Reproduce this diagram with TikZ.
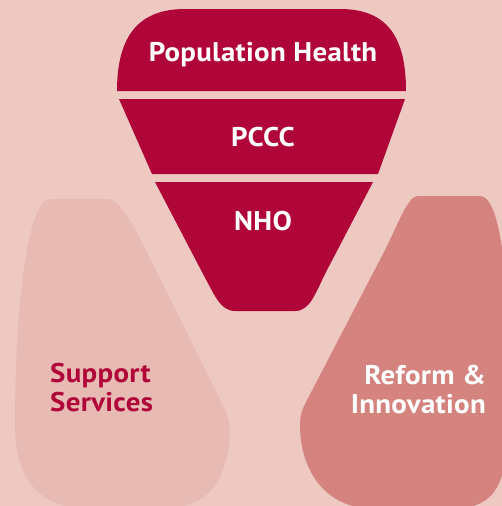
\documentclass[tikz,border=0pt]{standalone}
\usepackage{fontspec}
\setmainfont{PT Sans}
\newfontfamily\labelfont{PT Sans}[FakeStretch=1.07, LetterSpace=1.2]
\definecolor{bgpink}{HTML}{EEC9C1}
\definecolor{crimson}{HTML}{B00538}
\definecolor{softpink}{HTML}{E8BAB4}
\definecolor{salmon}{HTML}{D4837F}
\tikzset{
  label text/.style={font=\labelfont\bfseries\fontsize{27}{29}\selectfont, inner sep=0pt},
  band/.style={fill=crimson},
}
\begin{document}
\begin{tikzpicture}[x=1pt,y=-1pt]
  \fill[bgpink] (0,0) rectangle (502,506);
  \useasboundingbox (0,0) rectangle (502,506);
  \begin{scope}
    \clip (0,0) rectangle (502,506);
    % left petal
    \fill[softpink] (50,199) -- (107,199)
      .. controls (120,199) and (130,220) .. (145,248)
      -- (226,412)
      .. controls (231,422) and (231,440) .. (226,460)
      .. controls (216,498) and (195,509) .. (150,509)
      -- (90,509)
      .. controls (40,509) and (15,480) .. (15,425)
      .. controls (15,290) and (30,199) .. (50,199) -- cycle;
    % right petal
    \fill[salmon] (418,196) -- (480,196)
      .. controls (495,196) and (503,240) .. (506,290)
      -- (506,440)
      .. controls (506,490) and (490,509) .. (450,509)
      -- (375,509)
      .. controls (325,509) and (300,470) .. (300,425)
      .. controls (300,416) and (302,410) .. (305,404)
      -- (385,250)
      .. controls (400,220) and (408,196) .. (418,196) -- cycle;
  \end{scope}
  % funnel bands
  \fill[band] (117,91)
    .. controls (117,38) and (137,9) .. (185,9)
    -- (340,9)
    .. controls (388,9) and (406,38) .. (406,91) -- cycle;
  \fill[band] (119,99) -- (405,99) -- (378,174) -- (152,174) -- cycle;
  \fill[band] (155,182) -- (373,182)
    -- (326,272)
    .. controls (315,294) and (310,311) .. (295,311)
    -- (235,311)
    .. controls (220,311) and (214,294) .. (202,272) -- cycle;
  % labels
  \node[label text, white, anchor=base] (pop) at (263,61) {Population Health};
  \node[label text, white, anchor=base] (pccc) at (263,146) {PCCC};
  \node[label text, white, anchor=base] (nho) at (263,230) {NHO};
  \node[label text, crimson, anchor=north west, align=left] (support) at (50,363) {Support\\Services};
  \node[label text, white, anchor=north east, align=right] (reform) at (486,365) {Reform \&\\Innovation};
\end{tikzpicture}
\end{document}
